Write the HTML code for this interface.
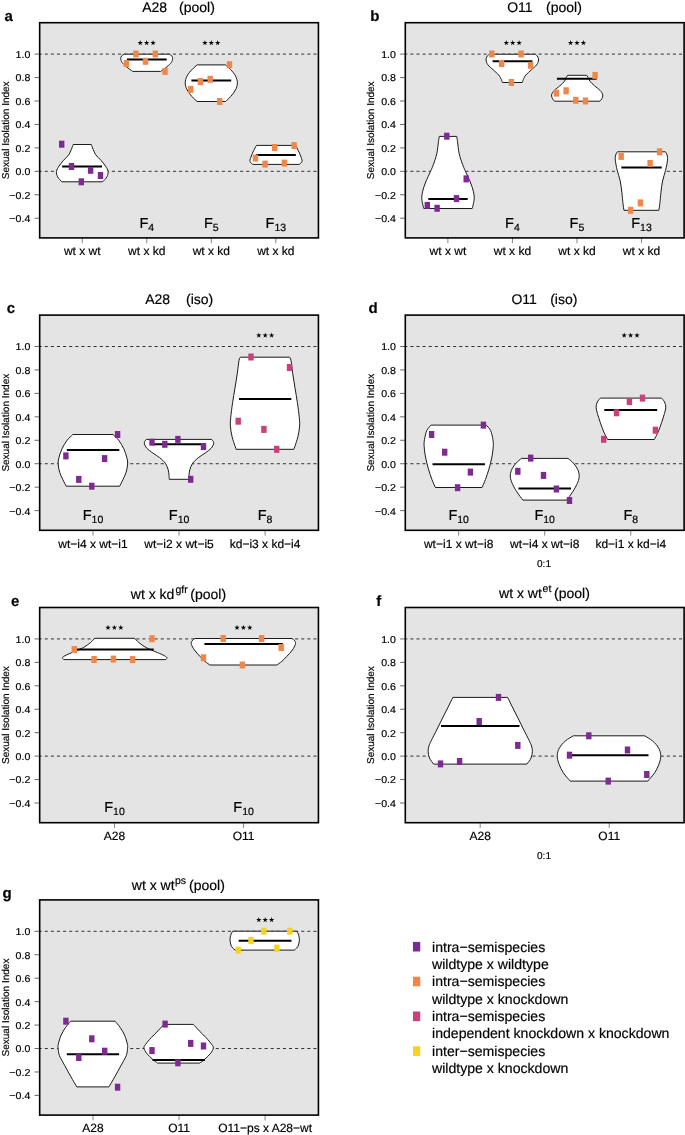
<!DOCTYPE html>
<html><head><meta charset="utf-8"><title>Sexual Isolation Index</title>
<style>
html,body{margin:0;padding:0;background:#fff;}
body{width:685px;height:1135px;overflow:hidden;font-family:"Liberation Sans", sans-serif;}
svg{display:block;will-change:transform;text-rendering:geometricPrecision;}
text{stroke:#000;stroke-width:0.18px;}
</style></head><body>
<svg width="685" height="1135" viewBox="0 0 685 1135" font-family="'Liberation Sans', sans-serif">
<rect width="685" height="1135" fill="#fff"/>
<rect x="39.68" y="22.7" width="278.75" height="215.2" fill="#e4e4e4"/>
<line x1="39.68" y1="54.11" x2="318.43" y2="54.11" stroke="#333" stroke-width="1" stroke-dasharray="3.1 3.006" stroke-dashoffset="1.05"/>
<line x1="39.68" y1="171.32" x2="318.43" y2="171.32" stroke="#333" stroke-width="1" stroke-dasharray="3.1 3.006" stroke-dashoffset="1.05"/>
<line x1="34.48" y1="54.11" x2="39.68" y2="54.11" stroke="#444" stroke-width="0.8"/>
<text x="0" y="0" font-size="10" text-anchor="end" transform="translate(30.3,58.01) scale(1.06,1)">1.0</text>
<line x1="34.48" y1="77.55" x2="39.68" y2="77.55" stroke="#444" stroke-width="0.8"/>
<text x="0" y="0" font-size="10" text-anchor="end" transform="translate(30.3,81.45) scale(1.06,1)">0.8</text>
<line x1="34.48" y1="101" x2="39.68" y2="101" stroke="#444" stroke-width="0.8"/>
<text x="0" y="0" font-size="10" text-anchor="end" transform="translate(30.3,104.9) scale(1.06,1)">0.6</text>
<line x1="34.48" y1="124.44" x2="39.68" y2="124.44" stroke="#444" stroke-width="0.8"/>
<text x="0" y="0" font-size="10" text-anchor="end" transform="translate(30.3,128.34) scale(1.06,1)">0.4</text>
<line x1="34.48" y1="147.88" x2="39.68" y2="147.88" stroke="#444" stroke-width="0.8"/>
<text x="0" y="0" font-size="10" text-anchor="end" transform="translate(30.3,151.78) scale(1.06,1)">0.2</text>
<line x1="34.48" y1="171.32" x2="39.68" y2="171.32" stroke="#444" stroke-width="0.8"/>
<text x="0" y="0" font-size="10" text-anchor="end" transform="translate(30.3,175.22) scale(1.06,1)">0.0</text>
<line x1="34.48" y1="194.77" x2="39.68" y2="194.77" stroke="#444" stroke-width="0.8"/>
<text x="0" y="0" font-size="10" text-anchor="end" transform="translate(30.3,198.67) scale(1.06,1)">−0.2</text>
<line x1="34.48" y1="218.21" x2="39.68" y2="218.21" stroke="#444" stroke-width="0.8"/>
<text x="0" y="0" font-size="10" text-anchor="end" transform="translate(30.3,222.11) scale(1.06,1)">−0.4</text>
<text x="0" y="0" font-size="10" text-anchor="middle" transform="translate(8.6,130.3) rotate(-90)">Sexual Isolation Index</text>
<text x="4.6" y="21" font-size="15" text-anchor="start" font-weight="bold">a</text>
<text x="142.2" y="12.3" font-size="14">A28</text><text x="179" y="12.3" font-size="14">(pool)</text>
<line x1="82.27" y1="237.9" x2="82.27" y2="243.2" stroke="#666" stroke-width="0.8"/>
<text x="82.27" y="255" font-size="12" text-anchor="middle" font-weight="normal">wt x wt</text>
<line x1="146.79" y1="237.9" x2="146.79" y2="243.2" stroke="#666" stroke-width="0.8"/>
<text x="146.79" y="255" font-size="12" text-anchor="middle" font-weight="normal">wt x kd</text>
<line x1="211.32" y1="237.9" x2="211.32" y2="243.2" stroke="#666" stroke-width="0.8"/>
<text x="211.32" y="255" font-size="12" text-anchor="middle" font-weight="normal">wt x kd</text>
<line x1="275.84" y1="237.9" x2="275.84" y2="243.2" stroke="#666" stroke-width="0.8"/>
<text x="275.84" y="255" font-size="12" text-anchor="middle" font-weight="normal">wt x kd</text>
<text x="146.79" y="228.1" font-size="14.5" text-anchor="middle">F<tspan font-size="10.5" dy="3">4</tspan></text>
<text x="211.32" y="228.1" font-size="14.5" text-anchor="middle">F<tspan font-size="10.5" dy="3">5</tspan></text>
<text x="275.84" y="228.1" font-size="14.5" text-anchor="middle">F<tspan font-size="10.5" dy="3">13</tspan></text>
<path d="M73.2,144.5 L91.3,144.5 C91.61,145.32 92.41,147.68 93.15,149.4 C93.89,151.12 94.45,152.98 95.75,154.8 C97.05,156.62 99.33,158.43 100.95,160.3 C102.57,162.17 104.27,164.15 105.45,166 C106.63,167.85 107.82,169.58 108.05,171.4 C108.28,173.22 107.75,175.17 106.85,176.9 C105.95,178.63 103.35,180.98 102.65,181.8 L61.85,181.8 C61.15,180.98 58.55,178.63 57.65,176.9 C56.75,175.17 56.22,173.22 56.45,171.4 C56.68,169.58 57.87,167.85 59.05,166 C60.23,164.15 61.93,162.17 63.55,160.3 C65.17,158.43 67.45,156.62 68.75,154.8 C70.05,152.98 70.61,151.12 71.35,149.4 C72.09,147.68 72.89,145.32 73.2,144.5 Z" fill="#fff" stroke="#1a1a1a" stroke-width="1"/>
<line x1="62.1" y1="166.5" x2="102" y2="166.5" stroke="#000" stroke-width="2"/>
<rect x="59" y="140.7" width="5.4" height="7" fill="#7d2a91"/>
<rect x="68.8" y="163" width="5.4" height="7" fill="#7d2a91"/>
<rect x="87.9" y="166.8" width="5.4" height="7" fill="#7d2a91"/>
<rect x="97.8" y="172" width="5.4" height="7" fill="#7d2a91"/>
<rect x="78.6" y="178.3" width="5.4" height="7" fill="#7d2a91"/>
<path d="M124.1,54.2 L169.3,54.2 C169.75,54.53 171.45,55.43 172,56.2 C172.55,56.97 172.7,57.77 172.6,58.8 C172.5,59.83 172.32,61.1 171.4,62.4 C170.48,63.7 168.88,65.1 167.1,66.6 C165.32,68.1 161.77,70.6 160.7,71.4 L132.7,71.4 C131.63,70.6 128.08,68.1 126.3,66.6 C124.52,65.1 122.92,63.7 122,62.4 C121.08,61.1 120.9,59.83 120.8,58.8 C120.7,57.77 120.85,56.97 121.4,56.2 C121.95,55.43 123.65,54.53 124.1,54.2 Z" fill="#fff" stroke="#1a1a1a" stroke-width="1"/>
<line x1="126.9" y1="59.4" x2="166.7" y2="59.4" stroke="#000" stroke-width="2"/>
<rect x="133.2" y="50.5" width="5.4" height="7" fill="#f0874a"/>
<rect x="152.6" y="50.5" width="5.4" height="7" fill="#f0874a"/>
<rect x="123.7" y="60" width="5.4" height="7" fill="#f0874a"/>
<rect x="142.8" y="57.8" width="5.4" height="7" fill="#f0874a"/>
<rect x="162.3" y="67.9" width="5.4" height="7" fill="#f0874a"/>
<polygon points="140.25,39.95 140.87,42 143.01,41.95 141.25,43.17 141.95,45.2 140.25,43.9 138.55,45.2 139.25,43.17 137.49,41.95 139.63,42" fill="#000"/>
<polygon points="146.65,39.95 147.27,42 149.41,41.95 147.65,43.17 148.35,45.2 146.65,43.9 144.95,45.2 145.65,43.17 143.89,41.95 146.03,42" fill="#000"/>
<polygon points="153.05,39.95 153.67,42 155.81,41.95 154.05,43.17 154.75,45.2 153.05,43.9 151.35,45.2 152.05,43.17 150.29,41.95 152.43,42" fill="#000"/>
<path d="M197.1,64.9 L225.5,64.9 C226.33,65.67 228.83,67.67 230.5,69.5 C232.17,71.33 234.35,73.65 235.5,75.9 C236.65,78.15 237.4,80.67 237.4,83 C237.4,85.33 236.62,87.65 235.5,89.9 C234.38,92.15 232.37,94.57 230.7,96.5 C229.03,98.43 226.37,100.67 225.5,101.5 L197.1,101.5 C196.23,100.67 193.57,98.43 191.9,96.5 C190.23,94.57 188.22,92.15 187.1,89.9 C185.98,87.65 185.2,85.33 185.2,83 C185.2,80.67 185.95,78.15 187.1,75.9 C188.25,73.65 190.43,71.33 192.1,69.5 C193.77,67.67 196.27,65.67 197.1,64.9 Z" fill="#fff" stroke="#1a1a1a" stroke-width="1"/>
<line x1="191.4" y1="80.4" x2="231.2" y2="80.4" stroke="#000" stroke-width="2"/>
<rect x="226.8" y="61.2" width="5.4" height="7" fill="#f0874a"/>
<rect x="207.5" y="75.8" width="5.4" height="7" fill="#f0874a"/>
<rect x="197.7" y="78.1" width="5.4" height="7" fill="#f0874a"/>
<rect x="188" y="85.9" width="5.4" height="7" fill="#f0874a"/>
<rect x="217" y="98" width="5.4" height="7" fill="#f0874a"/>
<polygon points="204.9,39.95 205.52,42 207.66,41.95 205.9,43.17 206.6,45.2 204.9,43.9 203.2,45.2 203.9,43.17 202.14,41.95 204.28,42" fill="#000"/>
<polygon points="211.3,39.95 211.92,42 214.06,41.95 212.3,43.17 213,45.2 211.3,43.9 209.6,45.2 210.3,43.17 208.54,41.95 210.68,42" fill="#000"/>
<polygon points="217.7,39.95 218.32,42 220.46,41.95 218.7,43.17 219.4,45.2 217.7,43.9 216,45.2 216.7,43.17 214.94,41.95 217.08,42" fill="#000"/>
<path d="M256.5,145.4 L295.5,145.4 C295.77,145.87 296.43,146.9 297.1,148.2 C297.77,149.5 298.75,151.47 299.5,153.2 C300.25,154.93 301.18,157.23 301.6,158.6 C302.02,159.97 302.35,160.43 302,161.4 C301.65,162.37 299.92,163.9 299.5,164.4 L252.5,164.4 C252.08,163.9 250.35,162.37 250,161.4 C249.65,160.43 249.98,159.97 250.4,158.6 C250.82,157.23 251.75,154.93 252.5,153.2 C253.25,151.47 254.23,149.5 254.9,148.2 C255.57,146.9 256.23,145.87 256.5,145.4 Z" fill="#fff" stroke="#1a1a1a" stroke-width="1"/>
<line x1="255.9" y1="155.1" x2="295.8" y2="155.1" stroke="#000" stroke-width="2"/>
<rect x="271.9" y="144" width="5.4" height="7" fill="#f0874a"/>
<rect x="291.4" y="142.1" width="5.4" height="7" fill="#f0874a"/>
<rect x="252.7" y="154.6" width="5.4" height="7" fill="#f0874a"/>
<rect x="262.4" y="160.6" width="5.4" height="7" fill="#f0874a"/>
<rect x="281.7" y="159.6" width="5.4" height="7" fill="#f0874a"/>
<rect x="39.68" y="22.7" width="278.75" height="215.2" fill="none" stroke="#000" stroke-width="1.6"/>
<rect x="405.3" y="22.7" width="278.8" height="215.2" fill="#e4e4e4"/>
<line x1="405.3" y1="54.11" x2="684.1" y2="54.11" stroke="#333" stroke-width="1" stroke-dasharray="3.1 3.006" stroke-dashoffset="1.05"/>
<line x1="405.3" y1="171.32" x2="684.1" y2="171.32" stroke="#333" stroke-width="1" stroke-dasharray="3.1 3.006" stroke-dashoffset="1.05"/>
<line x1="400.1" y1="54.11" x2="405.3" y2="54.11" stroke="#444" stroke-width="0.8"/>
<text x="0" y="0" font-size="10" text-anchor="end" transform="translate(395.92,58.01) scale(1.06,1)">1.0</text>
<line x1="400.1" y1="77.55" x2="405.3" y2="77.55" stroke="#444" stroke-width="0.8"/>
<text x="0" y="0" font-size="10" text-anchor="end" transform="translate(395.92,81.45) scale(1.06,1)">0.8</text>
<line x1="400.1" y1="101" x2="405.3" y2="101" stroke="#444" stroke-width="0.8"/>
<text x="0" y="0" font-size="10" text-anchor="end" transform="translate(395.92,104.9) scale(1.06,1)">0.6</text>
<line x1="400.1" y1="124.44" x2="405.3" y2="124.44" stroke="#444" stroke-width="0.8"/>
<text x="0" y="0" font-size="10" text-anchor="end" transform="translate(395.92,128.34) scale(1.06,1)">0.4</text>
<line x1="400.1" y1="147.88" x2="405.3" y2="147.88" stroke="#444" stroke-width="0.8"/>
<text x="0" y="0" font-size="10" text-anchor="end" transform="translate(395.92,151.78) scale(1.06,1)">0.2</text>
<line x1="400.1" y1="171.32" x2="405.3" y2="171.32" stroke="#444" stroke-width="0.8"/>
<text x="0" y="0" font-size="10" text-anchor="end" transform="translate(395.92,175.22) scale(1.06,1)">0.0</text>
<line x1="400.1" y1="194.77" x2="405.3" y2="194.77" stroke="#444" stroke-width="0.8"/>
<text x="0" y="0" font-size="10" text-anchor="end" transform="translate(395.92,198.67) scale(1.06,1)">−0.2</text>
<line x1="400.1" y1="218.21" x2="405.3" y2="218.21" stroke="#444" stroke-width="0.8"/>
<text x="0" y="0" font-size="10" text-anchor="end" transform="translate(395.92,222.11) scale(1.06,1)">−0.4</text>
<text x="0" y="0" font-size="10" text-anchor="middle" transform="translate(374.22,130.3) rotate(-90)">Sexual Isolation Index</text>
<text x="370.3" y="21" font-size="15" text-anchor="start" font-weight="bold">b</text>
<text x="507.2" y="12.3" font-size="14">O11</text><text x="546" y="12.3" font-size="14">(pool)</text>
<line x1="447.89" y1="237.9" x2="447.89" y2="243.2" stroke="#666" stroke-width="0.8"/>
<text x="447.89" y="255" font-size="12" text-anchor="middle" font-weight="normal">wt x wt</text>
<line x1="512.43" y1="237.9" x2="512.43" y2="243.2" stroke="#666" stroke-width="0.8"/>
<text x="512.43" y="255" font-size="12" text-anchor="middle" font-weight="normal">wt x kd</text>
<line x1="576.97" y1="237.9" x2="576.97" y2="243.2" stroke="#666" stroke-width="0.8"/>
<text x="576.97" y="255" font-size="12" text-anchor="middle" font-weight="normal">wt x kd</text>
<line x1="641.51" y1="237.9" x2="641.51" y2="243.2" stroke="#666" stroke-width="0.8"/>
<text x="641.51" y="255" font-size="12" text-anchor="middle" font-weight="normal">wt x kd</text>
<text x="512.43" y="228.1" font-size="14.5" text-anchor="middle">F<tspan font-size="10.5" dy="3">4</tspan></text>
<text x="576.97" y="228.1" font-size="14.5" text-anchor="middle">F<tspan font-size="10.5" dy="3">5</tspan></text>
<text x="641.51" y="228.1" font-size="14.5" text-anchor="middle">F<tspan font-size="10.5" dy="3">13</tspan></text>
<path d="M439.3,136.4 L456.7,136.4 C456.83,137.23 457.08,138.52 457.5,141.4 C457.92,144.28 458.37,149.9 459.2,153.7 C460.03,157.5 461.45,161.23 462.5,164.2 C463.55,167.17 464.2,168.53 465.5,171.5 C466.8,174.47 469,178.72 470.3,182 C471.6,185.28 472.64,188.48 473.3,191.2 C473.96,193.92 474.32,195.85 474.25,198.3 C474.18,200.75 473.24,204.2 472.9,205.9 C472.56,207.6 472.32,208.07 472.2,208.5 L423.8,208.5 C423.68,208.07 423.44,207.6 423.1,205.9 C422.76,204.2 421.82,200.75 421.75,198.3 C421.68,195.85 422.04,193.92 422.7,191.2 C423.36,188.48 424.4,185.28 425.7,182 C427,178.72 429.2,174.47 430.5,171.5 C431.8,168.53 432.45,167.17 433.5,164.2 C434.55,161.23 435.97,157.5 436.8,153.7 C437.63,149.9 438.08,144.28 438.5,141.4 C438.92,138.52 439.17,137.23 439.3,136.4 Z" fill="#fff" stroke="#1a1a1a" stroke-width="1"/>
<line x1="428.3" y1="199" x2="467.7" y2="199" stroke="#000" stroke-width="2"/>
<rect x="444.1" y="132.7" width="5.4" height="7" fill="#7d2a91"/>
<rect x="463.5" y="175.4" width="5.4" height="7" fill="#7d2a91"/>
<rect x="453.8" y="195.1" width="5.4" height="7" fill="#7d2a91"/>
<rect x="424.6" y="201.9" width="5.4" height="7" fill="#7d2a91"/>
<rect x="434.4" y="204.8" width="5.4" height="7" fill="#7d2a91"/>
<path d="M489.1,54.25 L535.5,54.25 C535.9,54.71 537.39,56.04 537.9,57 C538.41,57.96 538.75,58.7 538.55,60 C538.35,61.3 537.89,63.17 536.7,64.8 C535.51,66.43 533.2,68.1 531.4,69.8 C529.6,71.5 527.17,73.57 525.9,75 C524.63,76.43 524.42,77.15 523.8,78.4 C523.18,79.65 522.47,81.82 522.2,82.5 L502.4,82.5 C502.13,81.82 501.42,79.65 500.8,78.4 C500.18,77.15 499.97,76.43 498.7,75 C497.43,73.57 495,71.5 493.2,69.8 C491.4,68.1 489.09,66.43 487.9,64.8 C486.71,63.17 486.25,61.3 486.05,60 C485.85,58.7 486.19,57.96 486.7,57 C487.21,56.04 488.7,54.71 489.1,54.25 Z" fill="#fff" stroke="#1a1a1a" stroke-width="1"/>
<line x1="492.6" y1="61.2" x2="532.4" y2="61.2" stroke="#000" stroke-width="2"/>
<rect x="489.1" y="50.5" width="5.4" height="7" fill="#f0874a"/>
<rect x="518.4" y="50.5" width="5.4" height="7" fill="#f0874a"/>
<rect x="498.9" y="60" width="5.4" height="7" fill="#f0874a"/>
<rect x="527.9" y="61.8" width="5.4" height="7" fill="#f0874a"/>
<rect x="508.7" y="79" width="5.4" height="7" fill="#f0874a"/>
<polygon points="506.3,39.95 506.92,42 509.06,41.95 507.3,43.17 508,45.2 506.3,43.9 504.6,45.2 505.3,43.17 503.54,41.95 505.68,42" fill="#000"/>
<polygon points="512.7,39.95 513.32,42 515.46,41.95 513.7,43.17 514.4,45.2 512.7,43.9 511,45.2 511.7,43.17 509.94,41.95 512.08,42" fill="#000"/>
<polygon points="519.1,39.95 519.72,42 521.86,41.95 520.1,43.17 520.8,45.2 519.1,43.9 517.4,45.2 518.1,43.17 516.34,41.95 518.48,42" fill="#000"/>
<path d="M567.65,75.3 L586.75,75.3 C586.96,75.63 587.46,76.3 588,77.3 C588.54,78.3 588.92,79.88 590,81.3 C591.08,82.72 592.8,84.27 594.5,85.8 C596.2,87.33 598.82,88.97 600.2,90.5 C601.58,92.03 602.53,93.62 602.8,95 C603.07,96.38 602.28,97.77 601.8,98.8 C601.32,99.83 600.22,100.8 599.9,101.2 L554.5,101.2 C554.18,100.8 553.08,99.83 552.6,98.8 C552.12,97.77 551.33,96.38 551.6,95 C551.87,93.62 552.82,92.03 554.2,90.5 C555.58,88.97 558.2,87.33 559.9,85.8 C561.6,84.27 563.32,82.72 564.4,81.3 C565.48,79.88 565.86,78.3 566.4,77.3 C566.94,76.3 567.44,75.63 567.65,75.3 Z" fill="#fff" stroke="#1a1a1a" stroke-width="1"/>
<line x1="556.9" y1="78.7" x2="596.7" y2="78.7" stroke="#000" stroke-width="2"/>
<rect x="592.4" y="71.9" width="5.4" height="7" fill="#f0874a"/>
<rect x="563.4" y="87.3" width="5.4" height="7" fill="#f0874a"/>
<rect x="553.7" y="89.6" width="5.4" height="7" fill="#f0874a"/>
<rect x="573.1" y="96.8" width="5.4" height="7" fill="#f0874a"/>
<rect x="582.8" y="97.5" width="5.4" height="7" fill="#f0874a"/>
<polygon points="570.6,39.95 571.22,42 573.36,41.95 571.6,43.17 572.3,45.2 570.6,43.9 568.9,45.2 569.6,43.17 567.84,41.95 569.98,42" fill="#000"/>
<polygon points="577,39.95 577.62,42 579.76,41.95 578,43.17 578.7,45.2 577,43.9 575.3,45.2 576,43.17 574.24,41.95 576.38,42" fill="#000"/>
<polygon points="583.4,39.95 584.02,42 586.16,41.95 584.4,43.17 585.1,45.2 583.4,43.9 581.7,45.2 582.4,43.17 580.64,41.95 582.78,42" fill="#000"/>
<path d="M617.4,151.8 L665.4,151.8 C665.68,152.33 666.75,153.6 667.1,155 C667.45,156.4 667.75,157.67 667.5,160.2 C667.25,162.73 666.43,166.72 665.6,170.2 C664.77,173.68 663.32,177.4 662.55,181.1 C661.77,184.8 661.41,188.62 660.95,192.4 C660.49,196.18 660.15,200.82 659.8,203.8 C659.45,206.78 659.01,209.22 658.85,210.3 L623.95,210.3 C623.79,209.22 623.35,206.78 623,203.8 C622.65,200.82 622.31,196.18 621.85,192.4 C621.39,188.62 621.02,184.8 620.25,181.1 C619.48,177.4 618.02,173.68 617.2,170.2 C616.37,166.72 615.55,162.73 615.3,160.2 C615.05,157.67 615.35,156.4 615.7,155 C616.05,153.6 617.12,152.33 617.4,151.8 Z" fill="#fff" stroke="#1a1a1a" stroke-width="1"/>
<line x1="621.4" y1="167.5" x2="661.7" y2="167.5" stroke="#000" stroke-width="2"/>
<rect x="618.5" y="152.9" width="5.4" height="7" fill="#f0874a"/>
<rect x="656.9" y="148.3" width="5.4" height="7" fill="#f0874a"/>
<rect x="647.4" y="160" width="5.4" height="7" fill="#f0874a"/>
<rect x="637.7" y="199.4" width="5.4" height="7" fill="#f0874a"/>
<rect x="627.9" y="206.8" width="5.4" height="7" fill="#f0874a"/>
<rect x="405.3" y="22.7" width="278.8" height="215.2" fill="none" stroke="#000" stroke-width="1.6"/>
<rect x="39.68" y="315.1" width="278.75" height="215.2" fill="#e4e4e4"/>
<line x1="39.68" y1="346.51" x2="318.43" y2="346.51" stroke="#333" stroke-width="1" stroke-dasharray="3.1 3.006" stroke-dashoffset="1.05"/>
<line x1="39.68" y1="463.72" x2="318.43" y2="463.72" stroke="#333" stroke-width="1" stroke-dasharray="3.1 3.006" stroke-dashoffset="1.05"/>
<line x1="34.48" y1="346.51" x2="39.68" y2="346.51" stroke="#444" stroke-width="0.8"/>
<text x="0" y="0" font-size="10" text-anchor="end" transform="translate(30.3,350.41) scale(1.06,1)">1.0</text>
<line x1="34.48" y1="369.95" x2="39.68" y2="369.95" stroke="#444" stroke-width="0.8"/>
<text x="0" y="0" font-size="10" text-anchor="end" transform="translate(30.3,373.85) scale(1.06,1)">0.8</text>
<line x1="34.48" y1="393.4" x2="39.68" y2="393.4" stroke="#444" stroke-width="0.8"/>
<text x="0" y="0" font-size="10" text-anchor="end" transform="translate(30.3,397.3) scale(1.06,1)">0.6</text>
<line x1="34.48" y1="416.84" x2="39.68" y2="416.84" stroke="#444" stroke-width="0.8"/>
<text x="0" y="0" font-size="10" text-anchor="end" transform="translate(30.3,420.74) scale(1.06,1)">0.4</text>
<line x1="34.48" y1="440.28" x2="39.68" y2="440.28" stroke="#444" stroke-width="0.8"/>
<text x="0" y="0" font-size="10" text-anchor="end" transform="translate(30.3,444.18) scale(1.06,1)">0.2</text>
<line x1="34.48" y1="463.72" x2="39.68" y2="463.72" stroke="#444" stroke-width="0.8"/>
<text x="0" y="0" font-size="10" text-anchor="end" transform="translate(30.3,467.62) scale(1.06,1)">0.0</text>
<line x1="34.48" y1="487.17" x2="39.68" y2="487.17" stroke="#444" stroke-width="0.8"/>
<text x="0" y="0" font-size="10" text-anchor="end" transform="translate(30.3,491.07) scale(1.06,1)">−0.2</text>
<line x1="34.48" y1="510.61" x2="39.68" y2="510.61" stroke="#444" stroke-width="0.8"/>
<text x="0" y="0" font-size="10" text-anchor="end" transform="translate(30.3,514.51) scale(1.06,1)">−0.4</text>
<text x="0" y="0" font-size="10" text-anchor="middle" transform="translate(8.6,422.7) rotate(-90)">Sexual Isolation Index</text>
<text x="6.8" y="313.4" font-size="15" text-anchor="start" font-weight="bold">c</text>
<text x="145.2" y="304.4" font-size="14">A28</text><text x="186" y="304.4" font-size="14">(iso)</text>
<line x1="93.02" y1="530.3" x2="93.02" y2="535.6" stroke="#666" stroke-width="0.8"/>
<text x="93.02" y="548" font-size="12" text-anchor="middle" font-weight="normal">wt−i4 x wt−i1</text>
<line x1="179.06" y1="530.3" x2="179.06" y2="535.6" stroke="#666" stroke-width="0.8"/>
<text x="179.06" y="548" font-size="12" text-anchor="middle" font-weight="normal">wt−i2 x wt−i5</text>
<line x1="265.09" y1="530.3" x2="265.09" y2="535.6" stroke="#666" stroke-width="0.8"/>
<text x="265.09" y="548" font-size="12" text-anchor="middle" font-weight="normal">kd−i3 x kd−i4</text>
<text x="93.02" y="519.8" font-size="14.5" text-anchor="middle">F<tspan font-size="10.5" dy="3">10</tspan></text>
<text x="179.06" y="519.8" font-size="14.5" text-anchor="middle">F<tspan font-size="10.5" dy="3">10</tspan></text>
<text x="265.09" y="519.8" font-size="14.5" text-anchor="middle">F<tspan font-size="10.5" dy="3">8</tspan></text>
<path d="M72.8,434.5 L113,434.5 C113.97,435.48 117,438.02 118.8,440.4 C120.6,442.78 122.45,445.9 123.8,448.8 C125.15,451.7 126.26,455.27 126.9,457.8 C127.54,460.33 127.78,461.57 127.65,464 C127.52,466.43 126.89,469.78 126.1,472.4 C125.31,475.02 123.98,477.4 122.9,479.7 C121.82,482 120.15,485.12 119.6,486.2 L66.2,486.2 C65.65,485.12 63.98,482 62.9,479.7 C61.82,477.4 60.49,475.02 59.7,472.4 C58.91,469.78 58.28,466.43 58.15,464 C58.02,461.57 58.26,460.33 58.9,457.8 C59.54,455.27 60.65,451.7 62,448.8 C63.35,445.9 65.2,442.78 67,440.4 C68.8,438.02 71.83,435.48 72.8,434.5 Z" fill="#fff" stroke="#1a1a1a" stroke-width="1"/>
<line x1="66.8" y1="449.9" x2="119.3" y2="449.9" stroke="#000" stroke-width="2"/>
<rect x="114.9" y="431" width="5.4" height="7" fill="#7d2a91"/>
<rect x="63.2" y="452.4" width="5.4" height="7" fill="#7d2a91"/>
<rect x="101.9" y="455.1" width="5.4" height="7" fill="#7d2a91"/>
<rect x="76.1" y="475.9" width="5.4" height="7" fill="#7d2a91"/>
<rect x="89.1" y="482.7" width="5.4" height="7" fill="#7d2a91"/>
<path d="M146.3,439.4 L211.7,439.4 C211.98,439.78 213.09,440.93 213.4,441.7 C213.71,442.47 213.92,442.92 213.55,444 C213.18,445.08 212.59,446.7 211.2,448.2 C209.81,449.7 207.33,451.43 205.2,453 C203.07,454.57 200.5,455.88 198.4,457.6 C196.3,459.32 194.03,461.27 192.6,463.3 C191.17,465.33 190.4,467.8 189.8,469.8 C189.2,471.8 189.17,473.72 189,475.3 C188.83,476.88 188.83,478.63 188.8,479.3 L169.2,479.3 C169.17,478.63 169.17,476.88 169,475.3 C168.83,473.72 168.8,471.8 168.2,469.8 C167.6,467.8 166.83,465.33 165.4,463.3 C163.97,461.27 161.7,459.32 159.6,457.6 C157.5,455.88 154.93,454.57 152.8,453 C150.67,451.43 148.19,449.7 146.8,448.2 C145.41,446.7 144.82,445.08 144.45,444 C144.08,442.92 144.29,442.47 144.6,441.7 C144.91,440.93 146.02,439.78 146.3,439.4 Z" fill="#fff" stroke="#1a1a1a" stroke-width="1"/>
<line x1="152.5" y1="444.3" x2="205.5" y2="444.3" stroke="#000" stroke-width="2"/>
<rect x="149.3" y="438.7" width="5.4" height="7" fill="#7d2a91"/>
<rect x="162.1" y="440.8" width="5.4" height="7" fill="#7d2a91"/>
<rect x="175.2" y="435.9" width="5.4" height="7" fill="#7d2a91"/>
<rect x="200.8" y="443.1" width="5.4" height="7" fill="#7d2a91"/>
<rect x="188" y="475.8" width="5.4" height="7" fill="#7d2a91"/>
<path d="M240.4,357.2 L289.6,357.2 C289.83,357.75 290.48,357.8 291,360.5 C291.52,363.2 292.02,368.73 292.7,373.4 C293.38,378.07 294.32,383.63 295.1,388.5 C295.88,393.37 296.7,397.73 297.4,402.6 C298.1,407.47 298.93,413.82 299.3,417.7 C299.67,421.58 299.82,422.78 299.6,425.9 C299.38,429.02 298.95,432.5 298,436.4 C297.05,440.3 294.58,447.15 293.9,449.3 L236.1,449.3 C235.42,447.15 232.95,440.3 232,436.4 C231.05,432.5 230.62,429.02 230.4,425.9 C230.18,422.78 230.33,421.58 230.7,417.7 C231.07,413.82 231.9,407.47 232.6,402.6 C233.3,397.73 234.12,393.37 234.9,388.5 C235.68,383.63 236.62,378.07 237.3,373.4 C237.98,368.73 238.48,363.2 239,360.5 C239.52,357.8 240.17,357.75 240.4,357.2 Z" fill="#fff" stroke="#1a1a1a" stroke-width="1"/>
<line x1="239" y1="399" x2="291.3" y2="399" stroke="#000" stroke-width="2"/>
<rect x="248.3" y="353.5" width="5.4" height="7" fill="#c9407a"/>
<rect x="286.8" y="364" width="5.4" height="7" fill="#c9407a"/>
<rect x="235.5" y="417.7" width="5.4" height="7" fill="#c9407a"/>
<rect x="261.2" y="425.9" width="5.4" height="7" fill="#c9407a"/>
<rect x="274" y="445.8" width="5.4" height="7" fill="#c9407a"/>
<polygon points="258.8,332.45 259.42,334.5 261.56,334.45 259.8,335.67 260.5,337.7 258.8,336.4 257.1,337.7 257.8,335.67 256.04,334.45 258.18,334.5" fill="#000"/>
<polygon points="265.2,332.45 265.82,334.5 267.96,334.45 266.2,335.67 266.9,337.7 265.2,336.4 263.5,337.7 264.2,335.67 262.44,334.45 264.58,334.5" fill="#000"/>
<polygon points="271.6,332.45 272.22,334.5 274.36,334.45 272.6,335.67 273.3,337.7 271.6,336.4 269.9,337.7 270.6,335.67 268.84,334.45 270.98,334.5" fill="#000"/>
<rect x="39.68" y="315.1" width="278.75" height="215.2" fill="none" stroke="#000" stroke-width="1.6"/>
<rect x="405.3" y="315.1" width="278.8" height="215.2" fill="#e4e4e4"/>
<line x1="405.3" y1="346.51" x2="684.1" y2="346.51" stroke="#333" stroke-width="1" stroke-dasharray="3.1 3.006" stroke-dashoffset="1.05"/>
<line x1="405.3" y1="463.72" x2="684.1" y2="463.72" stroke="#333" stroke-width="1" stroke-dasharray="3.1 3.006" stroke-dashoffset="1.05"/>
<line x1="400.1" y1="346.51" x2="405.3" y2="346.51" stroke="#444" stroke-width="0.8"/>
<text x="0" y="0" font-size="10" text-anchor="end" transform="translate(395.92,350.41) scale(1.06,1)">1.0</text>
<line x1="400.1" y1="369.95" x2="405.3" y2="369.95" stroke="#444" stroke-width="0.8"/>
<text x="0" y="0" font-size="10" text-anchor="end" transform="translate(395.92,373.85) scale(1.06,1)">0.8</text>
<line x1="400.1" y1="393.4" x2="405.3" y2="393.4" stroke="#444" stroke-width="0.8"/>
<text x="0" y="0" font-size="10" text-anchor="end" transform="translate(395.92,397.3) scale(1.06,1)">0.6</text>
<line x1="400.1" y1="416.84" x2="405.3" y2="416.84" stroke="#444" stroke-width="0.8"/>
<text x="0" y="0" font-size="10" text-anchor="end" transform="translate(395.92,420.74) scale(1.06,1)">0.4</text>
<line x1="400.1" y1="440.28" x2="405.3" y2="440.28" stroke="#444" stroke-width="0.8"/>
<text x="0" y="0" font-size="10" text-anchor="end" transform="translate(395.92,444.18) scale(1.06,1)">0.2</text>
<line x1="400.1" y1="463.72" x2="405.3" y2="463.72" stroke="#444" stroke-width="0.8"/>
<text x="0" y="0" font-size="10" text-anchor="end" transform="translate(395.92,467.62) scale(1.06,1)">0.0</text>
<line x1="400.1" y1="487.17" x2="405.3" y2="487.17" stroke="#444" stroke-width="0.8"/>
<text x="0" y="0" font-size="10" text-anchor="end" transform="translate(395.92,491.07) scale(1.06,1)">−0.2</text>
<line x1="400.1" y1="510.61" x2="405.3" y2="510.61" stroke="#444" stroke-width="0.8"/>
<text x="0" y="0" font-size="10" text-anchor="end" transform="translate(395.92,514.51) scale(1.06,1)">−0.4</text>
<text x="0" y="0" font-size="10" text-anchor="middle" transform="translate(374.22,422.7) rotate(-90)">Sexual Isolation Index</text>
<text x="368.4" y="313.4" font-size="15" text-anchor="start" font-weight="bold">d</text>
<text x="511.4" y="304.4" font-size="14">O11</text><text x="550.2" y="304.4" font-size="14">(iso)</text>
<line x1="458.65" y1="530.3" x2="458.65" y2="535.6" stroke="#666" stroke-width="0.8"/>
<text x="458.65" y="548" font-size="12" text-anchor="middle" font-weight="normal">wt−i1 x wt−i8</text>
<line x1="544.7" y1="530.3" x2="544.7" y2="535.6" stroke="#666" stroke-width="0.8"/>
<text x="544.7" y="548" font-size="12" text-anchor="middle" font-weight="normal">wt−i4 x wt−i8</text>
<line x1="630.75" y1="530.3" x2="630.75" y2="535.6" stroke="#666" stroke-width="0.8"/>
<text x="630.75" y="548" font-size="12" text-anchor="middle" font-weight="normal">kd−i1 x kd−i4</text>
<text x="458.65" y="519.8" font-size="14.5" text-anchor="middle">F<tspan font-size="10.5" dy="3">10</tspan></text>
<text x="544.7" y="519.8" font-size="14.5" text-anchor="middle">F<tspan font-size="10.5" dy="3">10</tspan></text>
<text x="630.75" y="519.8" font-size="14.5" text-anchor="middle">F<tspan font-size="10.5" dy="3">8</tspan></text>
<path d="M431.1,425.1 L486.3,425.1 C487.02,426 489.5,428.1 490.6,430.5 C491.7,432.9 492.46,436.83 492.9,439.5 C493.34,442.17 493.45,443.43 493.25,446.5 C493.05,449.57 492.43,454.12 491.7,457.9 C490.97,461.68 489.94,465.6 488.9,469.2 C487.86,472.8 486.59,476.45 485.45,479.5 C484.31,482.55 482.62,486.17 482.05,487.5 L435.35,487.5 C434.78,486.17 433.09,482.55 431.95,479.5 C430.81,476.45 429.54,472.8 428.5,469.2 C427.46,465.6 426.43,461.68 425.7,457.9 C424.97,454.12 424.35,449.57 424.15,446.5 C423.95,443.43 424.06,442.17 424.5,439.5 C424.94,436.83 425.7,432.9 426.8,430.5 C427.9,428.1 430.38,426 431.1,425.1 Z" fill="#fff" stroke="#1a1a1a" stroke-width="1"/>
<line x1="432.5" y1="464.3" x2="484.9" y2="464.3" stroke="#000" stroke-width="2"/>
<rect x="480.7" y="421.6" width="5.4" height="7" fill="#7d2a91"/>
<rect x="428.9" y="431" width="5.4" height="7" fill="#7d2a91"/>
<rect x="442" y="448.7" width="5.4" height="7" fill="#7d2a91"/>
<rect x="467.7" y="468.6" width="5.4" height="7" fill="#7d2a91"/>
<rect x="454.9" y="484.2" width="5.4" height="7" fill="#7d2a91"/>
<path d="M521.4,458.4 L568.1,458.4 C568.98,459.18 571.79,461.35 573.35,463.1 C574.91,464.85 576.48,466.85 577.45,468.9 C578.43,470.95 579.15,473.15 579.2,475.4 C579.25,477.65 578.83,479.68 577.75,482.4 C576.67,485.12 574.6,488.75 572.75,491.7 C570.9,494.65 567.67,498.7 566.65,500.1 L522.85,500.1 C521.83,498.7 518.6,494.65 516.75,491.7 C514.9,488.75 512.83,485.12 511.75,482.4 C510.68,479.68 510.25,477.65 510.3,475.4 C510.35,473.15 511.07,470.95 512.05,468.9 C513.02,466.85 514.59,464.85 516.15,463.1 C517.71,461.35 520.52,459.18 521.4,458.4 Z" fill="#fff" stroke="#1a1a1a" stroke-width="1"/>
<line x1="518.4" y1="488.4" x2="571" y2="488.4" stroke="#000" stroke-width="2"/>
<rect x="528" y="454.6" width="5.4" height="7" fill="#7d2a91"/>
<rect x="515.1" y="467.8" width="5.4" height="7" fill="#7d2a91"/>
<rect x="540.8" y="471.9" width="5.4" height="7" fill="#7d2a91"/>
<rect x="553.7" y="485.5" width="5.4" height="7" fill="#7d2a91"/>
<rect x="566.8" y="497" width="5.4" height="7" fill="#7d2a91"/>
<path d="M600.4,398.1 L661.5,398.1 C662,398.73 663.78,400.38 664.5,401.9 C665.22,403.42 665.81,405.27 665.8,407.2 C665.79,409.13 665.15,410.93 664.45,413.5 C663.75,416.07 662.66,419.52 661.6,422.6 C660.54,425.68 659.32,429.18 658.1,432 C656.88,434.82 654.93,438.25 654.3,439.5 L607.6,439.5 C606.97,438.25 605.02,434.82 603.8,432 C602.58,429.18 601.36,425.68 600.3,422.6 C599.24,419.52 598.15,416.07 597.45,413.5 C596.75,410.93 596.11,409.13 596.1,407.2 C596.09,405.27 596.68,403.42 597.4,401.9 C598.12,400.38 599.9,398.73 600.4,398.1 Z" fill="#fff" stroke="#1a1a1a" stroke-width="1"/>
<line x1="604.3" y1="409.9" x2="657.2" y2="409.9" stroke="#000" stroke-width="2"/>
<rect x="639.8" y="394.6" width="5.4" height="7" fill="#c9407a"/>
<rect x="626.7" y="398.1" width="5.4" height="7" fill="#c9407a"/>
<rect x="613.8" y="409.3" width="5.4" height="7" fill="#c9407a"/>
<rect x="652.7" y="426.7" width="5.4" height="7" fill="#c9407a"/>
<rect x="601" y="435.8" width="5.4" height="7" fill="#c9407a"/>
<polygon points="624.2,332.45 624.82,334.5 626.96,334.45 625.2,335.67 625.9,337.7 624.2,336.4 622.5,337.7 623.2,335.67 621.44,334.45 623.58,334.5" fill="#000"/>
<polygon points="630.6,332.45 631.22,334.5 633.36,334.45 631.6,335.67 632.3,337.7 630.6,336.4 628.9,337.7 629.6,335.67 627.84,334.45 629.98,334.5" fill="#000"/>
<polygon points="637,332.45 637.62,334.5 639.76,334.45 638,335.67 638.7,337.7 637,336.4 635.3,337.7 636,335.67 634.24,334.45 636.38,334.5" fill="#000"/>
<rect x="405.3" y="315.1" width="278.8" height="215.2" fill="none" stroke="#000" stroke-width="1.6"/>
<text x="544" y="567" font-size="10" text-anchor="middle" font-weight="normal">0:1</text>
<rect x="39.68" y="607.5" width="278.75" height="215.2" fill="#e4e4e4"/>
<line x1="39.68" y1="638.91" x2="318.43" y2="638.91" stroke="#333" stroke-width="1" stroke-dasharray="3.1 3.006" stroke-dashoffset="1.05"/>
<line x1="39.68" y1="756.12" x2="318.43" y2="756.12" stroke="#333" stroke-width="1" stroke-dasharray="3.1 3.006" stroke-dashoffset="1.05"/>
<line x1="34.48" y1="638.91" x2="39.68" y2="638.91" stroke="#444" stroke-width="0.8"/>
<text x="0" y="0" font-size="10" text-anchor="end" transform="translate(30.3,642.81) scale(1.06,1)">1.0</text>
<line x1="34.48" y1="662.35" x2="39.68" y2="662.35" stroke="#444" stroke-width="0.8"/>
<text x="0" y="0" font-size="10" text-anchor="end" transform="translate(30.3,666.25) scale(1.06,1)">0.8</text>
<line x1="34.48" y1="685.8" x2="39.68" y2="685.8" stroke="#444" stroke-width="0.8"/>
<text x="0" y="0" font-size="10" text-anchor="end" transform="translate(30.3,689.7) scale(1.06,1)">0.6</text>
<line x1="34.48" y1="709.24" x2="39.68" y2="709.24" stroke="#444" stroke-width="0.8"/>
<text x="0" y="0" font-size="10" text-anchor="end" transform="translate(30.3,713.14) scale(1.06,1)">0.4</text>
<line x1="34.48" y1="732.68" x2="39.68" y2="732.68" stroke="#444" stroke-width="0.8"/>
<text x="0" y="0" font-size="10" text-anchor="end" transform="translate(30.3,736.58) scale(1.06,1)">0.2</text>
<line x1="34.48" y1="756.12" x2="39.68" y2="756.12" stroke="#444" stroke-width="0.8"/>
<text x="0" y="0" font-size="10" text-anchor="end" transform="translate(30.3,760.02) scale(1.06,1)">0.0</text>
<line x1="34.48" y1="779.57" x2="39.68" y2="779.57" stroke="#444" stroke-width="0.8"/>
<text x="0" y="0" font-size="10" text-anchor="end" transform="translate(30.3,783.47) scale(1.06,1)">−0.2</text>
<line x1="34.48" y1="803.01" x2="39.68" y2="803.01" stroke="#444" stroke-width="0.8"/>
<text x="0" y="0" font-size="10" text-anchor="end" transform="translate(30.3,806.91) scale(1.06,1)">−0.4</text>
<text x="0" y="0" font-size="10" text-anchor="middle" transform="translate(8.6,715.1) rotate(-90)">Sexual Isolation Index</text>
<text x="10.9" y="605.8" font-size="15" text-anchor="start" font-weight="bold">e</text>
<text x="130.8" y="598.6" font-size="14">wt x kd</text><text x="175.4" y="592.6" font-size="10.5">gfr</text><text x="190.3" y="598.6" font-size="14">(pool)</text>
<line x1="114.53" y1="822.7" x2="114.53" y2="828" stroke="#666" stroke-width="0.8"/>
<text x="114.53" y="839.8" font-size="12" text-anchor="middle" font-weight="normal">A28</text>
<line x1="243.58" y1="822.7" x2="243.58" y2="828" stroke="#666" stroke-width="0.8"/>
<text x="243.58" y="839.8" font-size="12" text-anchor="middle" font-weight="normal">O11</text>
<text x="114.53" y="812.3" font-size="14.5" text-anchor="middle">F<tspan font-size="10.5" dy="3">10</tspan></text>
<text x="243.58" y="812.3" font-size="14.5" text-anchor="middle">F<tspan font-size="10.5" dy="3">10</tspan></text>
<path d="M94.7,638.3 L134.7,638.3 C135.38,639 136.93,640.97 138.8,642.5 C140.67,644.03 143.18,645.98 145.9,647.5 C148.62,649.02 152.25,650.35 155.1,651.6 C157.95,652.85 161.03,654.02 163,655 C164.97,655.98 166.45,656.73 166.9,657.5 C167.35,658.27 165.9,659.25 165.7,659.6 L63.7,659.6 C63.5,659.25 62.05,658.27 62.5,657.5 C62.95,656.73 64.43,655.98 66.4,655 C68.37,654.02 71.45,652.85 74.3,651.6 C77.15,650.35 80.78,649.02 83.5,647.5 C86.22,645.98 88.73,644.03 90.6,642.5 C92.47,640.97 94.02,639 94.7,638.3 Z" fill="#fff" stroke="#1a1a1a" stroke-width="1"/>
<line x1="77.1" y1="649.6" x2="153.7" y2="649.6" stroke="#000" stroke-width="2"/>
<rect x="71.6" y="646.1" width="5.4" height="7" fill="#f0874a"/>
<rect x="149.3" y="635.2" width="5.4" height="7" fill="#f0874a"/>
<rect x="91.4" y="656" width="5.4" height="7" fill="#f0874a"/>
<rect x="110.7" y="655.6" width="5.4" height="7" fill="#f0874a"/>
<rect x="129.9" y="656.1" width="5.4" height="7" fill="#f0874a"/>
<polygon points="108,624.75 108.62,626.8 110.76,626.75 109,627.97 109.7,630 108,628.7 106.3,630 107,627.97 105.24,626.75 107.38,626.8" fill="#000"/>
<polygon points="114.4,624.75 115.02,626.8 117.16,626.75 115.4,627.97 116.1,630 114.4,628.7 112.7,630 113.4,627.97 111.64,626.75 113.78,626.8" fill="#000"/>
<polygon points="120.8,624.75 121.42,626.8 123.56,626.75 121.8,627.97 122.5,630 120.8,628.7 119.1,630 119.8,627.97 118.04,626.75 120.18,626.8" fill="#000"/>
<path d="M194.8,638.5 L292,638.5 C292.48,638.92 294.33,640.03 294.9,641 C295.47,641.97 295.82,642.8 295.4,644.3 C294.98,645.8 293.85,647.97 292.4,650 C290.95,652.03 288.47,654.6 286.7,656.5 C284.93,658.4 283.43,659.98 281.8,661.4 C280.17,662.82 277.72,664.4 276.9,665 L209.9,665 C209.08,664.4 206.63,662.82 205,661.4 C203.37,659.98 201.87,658.4 200.1,656.5 C198.33,654.6 195.85,652.03 194.4,650 C192.95,647.97 191.82,645.8 191.4,644.3 C190.98,642.8 191.33,641.97 191.9,641 C192.47,640.03 194.32,638.92 194.8,638.5 Z" fill="#fff" stroke="#1a1a1a" stroke-width="1"/>
<line x1="204.4" y1="643.9" x2="282.8" y2="643.9" stroke="#000" stroke-width="2"/>
<rect x="220.5" y="635" width="5.4" height="7" fill="#f0874a"/>
<rect x="258.9" y="635" width="5.4" height="7" fill="#f0874a"/>
<rect x="278.5" y="644" width="5.4" height="7" fill="#f0874a"/>
<rect x="200.8" y="654.3" width="5.4" height="7" fill="#f0874a"/>
<rect x="239.7" y="661.5" width="5.4" height="7" fill="#f0874a"/>
<polygon points="237,624.75 237.62,626.8 239.76,626.75 238,627.97 238.7,630 237,628.7 235.3,630 236,627.97 234.24,626.75 236.38,626.8" fill="#000"/>
<polygon points="243.4,624.75 244.02,626.8 246.16,626.75 244.4,627.97 245.1,630 243.4,628.7 241.7,630 242.4,627.97 240.64,626.75 242.78,626.8" fill="#000"/>
<polygon points="249.8,624.75 250.42,626.8 252.56,626.75 250.8,627.97 251.5,630 249.8,628.7 248.1,630 248.8,627.97 247.04,626.75 249.18,626.8" fill="#000"/>
<rect x="39.68" y="607.5" width="278.75" height="215.2" fill="none" stroke="#000" stroke-width="1.6"/>
<rect x="405.3" y="607.5" width="278.8" height="215.2" fill="#e4e4e4"/>
<line x1="405.3" y1="638.91" x2="684.1" y2="638.91" stroke="#333" stroke-width="1" stroke-dasharray="3.1 3.006" stroke-dashoffset="1.05"/>
<line x1="405.3" y1="756.12" x2="684.1" y2="756.12" stroke="#333" stroke-width="1" stroke-dasharray="3.1 3.006" stroke-dashoffset="1.05"/>
<line x1="400.1" y1="638.91" x2="405.3" y2="638.91" stroke="#444" stroke-width="0.8"/>
<text x="0" y="0" font-size="10" text-anchor="end" transform="translate(395.92,642.81) scale(1.06,1)">1.0</text>
<line x1="400.1" y1="662.35" x2="405.3" y2="662.35" stroke="#444" stroke-width="0.8"/>
<text x="0" y="0" font-size="10" text-anchor="end" transform="translate(395.92,666.25) scale(1.06,1)">0.8</text>
<line x1="400.1" y1="685.8" x2="405.3" y2="685.8" stroke="#444" stroke-width="0.8"/>
<text x="0" y="0" font-size="10" text-anchor="end" transform="translate(395.92,689.7) scale(1.06,1)">0.6</text>
<line x1="400.1" y1="709.24" x2="405.3" y2="709.24" stroke="#444" stroke-width="0.8"/>
<text x="0" y="0" font-size="10" text-anchor="end" transform="translate(395.92,713.14) scale(1.06,1)">0.4</text>
<line x1="400.1" y1="732.68" x2="405.3" y2="732.68" stroke="#444" stroke-width="0.8"/>
<text x="0" y="0" font-size="10" text-anchor="end" transform="translate(395.92,736.58) scale(1.06,1)">0.2</text>
<line x1="400.1" y1="756.12" x2="405.3" y2="756.12" stroke="#444" stroke-width="0.8"/>
<text x="0" y="0" font-size="10" text-anchor="end" transform="translate(395.92,760.02) scale(1.06,1)">0.0</text>
<line x1="400.1" y1="779.57" x2="405.3" y2="779.57" stroke="#444" stroke-width="0.8"/>
<text x="0" y="0" font-size="10" text-anchor="end" transform="translate(395.92,783.47) scale(1.06,1)">−0.2</text>
<line x1="400.1" y1="803.01" x2="405.3" y2="803.01" stroke="#444" stroke-width="0.8"/>
<text x="0" y="0" font-size="10" text-anchor="end" transform="translate(395.92,806.91) scale(1.06,1)">−0.4</text>
<text x="0" y="0" font-size="10" text-anchor="middle" transform="translate(374.22,715.1) rotate(-90)">Sexual Isolation Index</text>
<text x="376.2" y="605.8" font-size="15" text-anchor="start" font-weight="bold">f</text>
<text x="499.1" y="598.1" font-size="14">wt x wt</text><text x="542.6" y="592.1" font-size="10.5">et</text><text x="554" y="598.1" font-size="14">(pool)</text>
<line x1="480.16" y1="822.7" x2="480.16" y2="828" stroke="#666" stroke-width="0.8"/>
<text x="480.16" y="839.8" font-size="12" text-anchor="middle" font-weight="normal">A28</text>
<line x1="609.24" y1="822.7" x2="609.24" y2="828" stroke="#666" stroke-width="0.8"/>
<text x="609.24" y="839.8" font-size="12" text-anchor="middle" font-weight="normal">O11</text>
<path d="M452.9,697.4 L507.6,697.4 C508.48,699.17 511.04,704.4 512.85,708 C514.66,711.6 516.62,715.33 518.45,719 C520.28,722.67 522.04,726.37 523.85,730 C525.66,733.63 528.02,738.13 529.3,740.8 C530.58,743.47 531.04,744.25 531.55,746 C532.06,747.75 532.43,749.3 532.35,751.3 C532.27,753.3 531.97,755.87 531.05,758 C530.13,760.13 527.55,763.08 526.85,764.1 L433.65,764.1 C432.95,763.08 430.37,760.13 429.45,758 C428.53,755.87 428.23,753.3 428.15,751.3 C428.07,749.3 428.44,747.75 428.95,746 C429.46,744.25 429.92,743.47 431.2,740.8 C432.48,738.13 434.84,733.63 436.65,730 C438.46,726.37 440.22,722.67 442.05,719 C443.88,715.33 445.84,711.6 447.65,708 C449.46,704.4 452.02,699.17 452.9,697.4 Z" fill="#fff" stroke="#1a1a1a" stroke-width="1"/>
<line x1="441" y1="725.9" x2="519.5" y2="725.9" stroke="#000" stroke-width="2"/>
<rect x="495.8" y="693.9" width="5.4" height="7" fill="#7d2a91"/>
<rect x="476.5" y="718" width="5.4" height="7" fill="#7d2a91"/>
<rect x="515.1" y="741.9" width="5.4" height="7" fill="#7d2a91"/>
<rect x="456.9" y="758" width="5.4" height="7" fill="#7d2a91"/>
<rect x="437.8" y="760.4" width="5.4" height="7" fill="#7d2a91"/>
<path d="M573.3,735.8 L644.7,735.8 C646,736.65 650.2,738.9 652.5,740.9 C654.8,742.9 657.12,745.35 658.5,747.8 C659.88,750.25 660.72,752.87 660.8,755.6 C660.88,758.33 659.98,761.33 658.95,764.2 C657.93,767.07 656.52,769.98 654.65,772.8 C652.78,775.62 648.9,779.72 647.75,781.1 L570.25,781.1 C569.1,779.72 565.22,775.62 563.35,772.8 C561.48,769.98 560.07,767.07 559.05,764.2 C558.02,761.33 557.12,758.33 557.2,755.6 C557.28,752.87 558.12,750.25 559.5,747.8 C560.88,745.35 563.2,742.9 565.5,740.9 C567.8,738.9 572,736.65 573.3,735.8 Z" fill="#fff" stroke="#1a1a1a" stroke-width="1"/>
<line x1="569.8" y1="755.2" x2="648.5" y2="755.2" stroke="#000" stroke-width="2"/>
<rect x="586.1" y="732.3" width="5.4" height="7" fill="#7d2a91"/>
<rect x="624.8" y="746.5" width="5.4" height="7" fill="#7d2a91"/>
<rect x="566.8" y="751.7" width="5.4" height="7" fill="#7d2a91"/>
<rect x="644.1" y="771" width="5.4" height="7" fill="#7d2a91"/>
<rect x="605.5" y="777.6" width="5.4" height="7" fill="#7d2a91"/>
<rect x="405.3" y="607.5" width="278.8" height="215.2" fill="none" stroke="#000" stroke-width="1.6"/>
<text x="544" y="859.3" font-size="10" text-anchor="middle" font-weight="normal">0:1</text>
<rect x="39.68" y="899.9" width="278.75" height="215.2" fill="#e4e4e4"/>
<line x1="39.68" y1="931.31" x2="318.43" y2="931.31" stroke="#333" stroke-width="1" stroke-dasharray="3.1 3.006" stroke-dashoffset="1.05"/>
<line x1="39.68" y1="1048.52" x2="318.43" y2="1048.52" stroke="#333" stroke-width="1" stroke-dasharray="3.1 3.006" stroke-dashoffset="1.05"/>
<line x1="34.48" y1="931.31" x2="39.68" y2="931.31" stroke="#444" stroke-width="0.8"/>
<text x="0" y="0" font-size="10" text-anchor="end" transform="translate(30.3,935.21) scale(1.06,1)">1.0</text>
<line x1="34.48" y1="954.75" x2="39.68" y2="954.75" stroke="#444" stroke-width="0.8"/>
<text x="0" y="0" font-size="10" text-anchor="end" transform="translate(30.3,958.65) scale(1.06,1)">0.8</text>
<line x1="34.48" y1="978.2" x2="39.68" y2="978.2" stroke="#444" stroke-width="0.8"/>
<text x="0" y="0" font-size="10" text-anchor="end" transform="translate(30.3,982.1) scale(1.06,1)">0.6</text>
<line x1="34.48" y1="1001.64" x2="39.68" y2="1001.64" stroke="#444" stroke-width="0.8"/>
<text x="0" y="0" font-size="10" text-anchor="end" transform="translate(30.3,1005.54) scale(1.06,1)">0.4</text>
<line x1="34.48" y1="1025.08" x2="39.68" y2="1025.08" stroke="#444" stroke-width="0.8"/>
<text x="0" y="0" font-size="10" text-anchor="end" transform="translate(30.3,1028.98) scale(1.06,1)">0.2</text>
<line x1="34.48" y1="1048.52" x2="39.68" y2="1048.52" stroke="#444" stroke-width="0.8"/>
<text x="0" y="0" font-size="10" text-anchor="end" transform="translate(30.3,1052.42) scale(1.06,1)">0.0</text>
<line x1="34.48" y1="1071.97" x2="39.68" y2="1071.97" stroke="#444" stroke-width="0.8"/>
<text x="0" y="0" font-size="10" text-anchor="end" transform="translate(30.3,1075.87) scale(1.06,1)">−0.2</text>
<line x1="34.48" y1="1095.41" x2="39.68" y2="1095.41" stroke="#444" stroke-width="0.8"/>
<text x="0" y="0" font-size="10" text-anchor="end" transform="translate(30.3,1099.31) scale(1.06,1)">−0.4</text>
<text x="0" y="0" font-size="10" text-anchor="middle" transform="translate(8.6,1007.5) rotate(-90)">Sexual Isolation Index</text>
<text x="2.5" y="898.2" font-size="15" text-anchor="start" font-weight="bold">g</text>
<text x="131.8" y="889.9" font-size="14">wt x wt</text><text x="175" y="883.9" font-size="10.5">ps</text><text x="189.1" y="889.9" font-size="14">(pool)</text>
<line x1="93.02" y1="1115.1" x2="93.02" y2="1120.4" stroke="#666" stroke-width="0.8"/>
<text x="93.02" y="1132.4" font-size="12" text-anchor="middle" font-weight="normal">A28</text>
<line x1="179.06" y1="1115.1" x2="179.06" y2="1120.4" stroke="#666" stroke-width="0.8"/>
<text x="179.06" y="1132.4" font-size="12" text-anchor="middle" font-weight="normal">O11</text>
<line x1="265.09" y1="1115.1" x2="265.09" y2="1120.4" stroke="#666" stroke-width="0.8"/>
<text x="265.09" y="1132.4" font-size="12" text-anchor="middle" font-weight="normal">O11−ps x A28−wt</text>
<path d="M70.65,1021.2 L115.05,1021.2 C115.89,1022.23 118.51,1025.07 120.1,1027.4 C121.69,1029.73 123.38,1032.4 124.6,1035.2 C125.82,1038 126.91,1042.03 127.4,1044.2 C127.89,1046.37 127.73,1046.32 127.55,1048.2 C127.37,1050.08 127.4,1052.6 126.3,1055.5 C125.2,1058.4 122.87,1062.05 120.95,1065.6 C119.02,1069.15 116.76,1073.25 114.75,1076.8 C112.74,1080.35 109.88,1085.22 108.9,1086.9 L76.8,1086.9 C75.82,1085.22 72.96,1080.35 70.95,1076.8 C68.94,1073.25 66.67,1069.15 64.75,1065.6 C62.83,1062.05 60.5,1058.4 59.4,1055.5 C58.3,1052.6 58.33,1050.08 58.15,1048.2 C57.97,1046.32 57.81,1046.37 58.3,1044.2 C58.79,1042.03 59.88,1038 61.1,1035.2 C62.32,1032.4 64.01,1029.73 65.6,1027.4 C67.19,1025.07 69.81,1022.23 70.65,1021.2 Z" fill="#fff" stroke="#1a1a1a" stroke-width="1"/>
<line x1="66.8" y1="1054.3" x2="119.1" y2="1054.3" stroke="#000" stroke-width="2"/>
<rect x="63.2" y="1017.7" width="5.4" height="7" fill="#7d2a91"/>
<rect x="89.1" y="1035.3" width="5.4" height="7" fill="#7d2a91"/>
<rect x="102" y="1047.7" width="5.4" height="7" fill="#7d2a91"/>
<rect x="76.1" y="1054" width="5.4" height="7" fill="#7d2a91"/>
<rect x="114.9" y="1083.7" width="5.4" height="7" fill="#7d2a91"/>
<path d="M163.95,1024.4 L193.35,1024.4 C194.32,1025.45 197.05,1028.52 199.15,1030.7 C201.25,1032.88 203.87,1035.23 205.95,1037.5 C208.03,1039.77 210.42,1042.55 211.65,1044.3 C212.88,1046.05 213.53,1046.48 213.35,1048 C213.17,1049.52 211.97,1051.55 210.55,1053.4 C209.13,1055.25 206.65,1057.48 204.85,1059.1 C203.05,1060.72 200.6,1062.43 199.75,1063.1 L157.55,1063.1 C156.7,1062.43 154.25,1060.72 152.45,1059.1 C150.65,1057.48 148.17,1055.25 146.75,1053.4 C145.33,1051.55 144.13,1049.52 143.95,1048 C143.77,1046.48 144.42,1046.05 145.65,1044.3 C146.88,1042.55 149.27,1039.77 151.35,1037.5 C153.43,1035.23 156.05,1032.88 158.15,1030.7 C160.25,1028.52 162.98,1025.45 163.95,1024.4 Z" fill="#fff" stroke="#1a1a1a" stroke-width="1"/>
<line x1="152.5" y1="1060" x2="204.9" y2="1060" stroke="#000" stroke-width="2"/>
<rect x="162.4" y="1020.6" width="5.4" height="7" fill="#7d2a91"/>
<rect x="188" y="1039.9" width="5.4" height="7" fill="#7d2a91"/>
<rect x="200.8" y="1042.5" width="5.4" height="7" fill="#7d2a91"/>
<rect x="149.3" y="1047.1" width="5.4" height="7" fill="#7d2a91"/>
<rect x="175.2" y="1059.3" width="5.4" height="7" fill="#7d2a91"/>
<path d="M232.8,931.2 L296.6,931.2 C296.88,931.67 297.87,932.95 298.3,934 C298.73,935.05 299.03,936.38 299.2,937.5 C299.37,938.62 299.42,939.45 299.3,940.7 C299.18,941.95 298.93,943.78 298.5,945 C298.07,946.22 297.4,947.15 296.7,948 C296,948.85 294.7,949.75 294.3,950.1 L235.1,950.1 C234.7,949.75 233.4,948.85 232.7,948 C232,947.15 231.33,946.22 230.9,945 C230.47,943.78 230.22,941.95 230.1,940.7 C229.98,939.45 230.03,938.62 230.2,937.5 C230.37,936.38 230.67,935.05 231.1,934 C231.53,932.95 232.52,931.67 232.8,931.2 Z" fill="#fff" stroke="#1a1a1a" stroke-width="1"/>
<line x1="238.7" y1="940.7" x2="291.5" y2="940.7" stroke="#000" stroke-width="2"/>
<rect x="261.1" y="927.7" width="5.4" height="7" fill="#f6d323"/>
<rect x="287.1" y="927.7" width="5.4" height="7" fill="#f6d323"/>
<rect x="248.3" y="936.9" width="5.4" height="7" fill="#f6d323"/>
<rect x="274.2" y="944.7" width="5.4" height="7" fill="#f6d323"/>
<rect x="235.5" y="946.6" width="5.4" height="7" fill="#f6d323"/>
<polygon points="258.8,916.95 259.42,919 261.56,918.95 259.8,920.17 260.5,922.2 258.8,920.9 257.1,922.2 257.8,920.17 256.04,918.95 258.18,919" fill="#000"/>
<polygon points="265.2,916.95 265.82,919 267.96,918.95 266.2,920.17 266.9,922.2 265.2,920.9 263.5,922.2 264.2,920.17 262.44,918.95 264.58,919" fill="#000"/>
<polygon points="271.6,916.95 272.22,919 274.36,918.95 272.6,920.17 273.3,922.2 271.6,920.9 269.9,922.2 270.6,920.17 268.84,918.95 270.98,919" fill="#000"/>
<rect x="39.68" y="899.9" width="278.75" height="215.2" fill="none" stroke="#000" stroke-width="1.6"/>
<rect x="412.95" y="941.9" width="7.3" height="9.6" fill="#7d2a91"/>
<text x="432" y="951.5" font-size="14.1" text-anchor="start" font-weight="normal">intra−semispecies</text>
<text x="432" y="968.7" font-size="14.1" text-anchor="start" font-weight="normal">wildtype x wildtype</text>
<rect x="412.95" y="976.7" width="7.3" height="9.6" fill="#f0874a"/>
<text x="432" y="986.3" font-size="14.1" text-anchor="start" font-weight="normal">intra−semispecies</text>
<text x="432" y="1003.5" font-size="14.1" text-anchor="start" font-weight="normal">wildtype x knockdown</text>
<rect x="412.95" y="1011.5" width="7.3" height="9.6" fill="#c9407a"/>
<text x="432" y="1021.1" font-size="14.1" text-anchor="start" font-weight="normal">intra−semispecies</text>
<text x="432" y="1038.3" font-size="14.1" text-anchor="start" font-weight="normal">independent knockdown x knockdown</text>
<rect x="412.95" y="1046.3" width="7.3" height="9.6" fill="#f6d323"/>
<text x="432" y="1055.9" font-size="14.1" text-anchor="start" font-weight="normal">inter−semispecies</text>
<text x="432" y="1073.1" font-size="14.1" text-anchor="start" font-weight="normal">wildtype x knockdown</text>
</svg>
</body></html>
